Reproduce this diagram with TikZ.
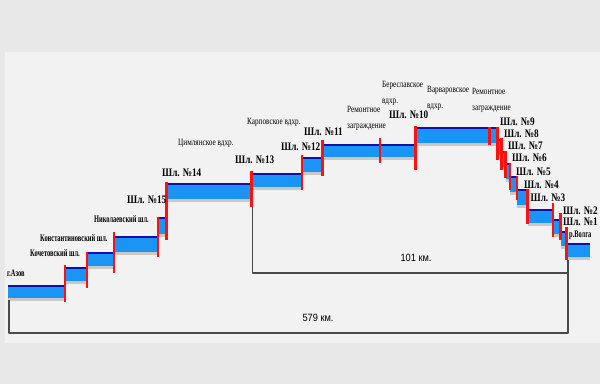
\documentclass[tikz,border=0pt]{standalone}
\usepackage{fontspec}
\newfontfamily\serifc[FakeStretch=0.8]{Liberation Serif}
\newfontfamily\serifn[FakeStretch=0.64]{Liberation Serif}
\newfontfamily\serifr[FakeStretch=0.76]{Liberation Serif}
\newfontfamily\sansc[FakeStretch=0.88]{Liberation Sans}
\definecolor{bgout}{HTML}{E8E8E8}
\definecolor{bgin}{HTML}{F2F2F2}
\definecolor{wblue}{HTML}{1A94F5}
\definecolor{wnavy}{HTML}{1010A8}
\definecolor{wgray}{HTML}{CCC6C4}
\definecolor{lred}{HTML}{FF1010}
\definecolor{brk}{HTML}{4A4A4A}
\tikzset{
  lk/.style={anchor=west, inner sep=0pt, font=\serifc\bfseries\fontsize{11.5}{13}\selectfont},
  nmb/.style={anchor=west, inner sep=0pt, font=\serifn\bfseries\fontsize{10}{11}\selectfont},
  nmr/.style={anchor=west, inner sep=0pt, align=left, font=\serifr\fontsize{9.5}{16}\selectfont},
  km/.style={inner sep=0pt, font=\sansc\fontsize{10.5}{12}\selectfont},
  lockline/.style={draw=lred, line width=2.6pt},
  surf/.style={draw=wnavy, line width=1.8pt},
  bracket/.style={draw=brk, line width=1.4pt, line join=round},
}
\begin{document}
\begin{tikzpicture}[x=1pt,y=-1pt]
\useasboundingbox (0,0) rectangle (600,384);
\fill[bgout] (0,0) rectangle (600,384);
\fill[bgin] (5,52) rectangle (600,343);
% water steps
\foreach \a/\b/\t/\h in {8/64/286/12, 66/87/268/13, 88/114/253/13, 115/157/237/15,
  159/166/218/16, 167/251/184/15, 253/302/174/13, 303/322/158/14, 323/415/145/12,
  416/497/128/15, 498/501.5/140/15, 501.5/505.5/152/15, 505.5/510/164/15,
  510/517/177/15, 517/527.5/190/15, 527.5/553/210/13, 553/560.5/220/14,
  560.5/566.5/232/14, 566.5/590/244/13}{
  \fill[wblue] (\a,\t) rectangle (\b,\t+\h);
  \fill[wgray] (\a,\t+\h) rectangle (\b,\t+\h+3);
  \draw[surf] (\a,\t) -- (\b,\t);
}
% brackets
\coordinate (a1) at (252.5,205);
\coordinate (a2) at (252.5,273);
\coordinate (a3) at (568,273);
\coordinate (b1) at (9,300);
\coordinate (b2) at (9,333);
\coordinate (b3) at (568,333);
\coordinate (b4) at (568,260);
\draw[bracket] (a1) -- (a2) -- (a3);
\draw[bracket] (b1) -- (b2) -- (b3) -- (b4);
% locks
\foreach \x/\p/\q in {65/265/302, 87/252/288, 114/232/273, 158/217/257, 166.5/182/240,
  251.5/171/207, 302/155/190, 322.5/140/176, 380/138/163, 415.5/126/170, 489.5/127/145,
  497.5/127/160, 501.5/138/170, 505.5/151/178, 510/163/190, 517/176/200, 527.5/189/224,
  553/203/237, 560.5/213/240, 566.5/227/260}{
  \draw[lockline] (\x,\p) -- (\x,\q);
}
% labels
\node[nmb] (azov) at (7,273) {г.Азов};
\node[nmb] (koch) at (30,253) {Кочетовский шл.};
\node[nmb] (konst) at (40,238) {Константиновский шл.};
\node[nmb,anchor=east] (nikol) at (149,219) {Николаевский шл.};
\node[lk] (s15) at (127,200) {Шл. №15};
\node[lk] (s14) at (162,173) {Шл. №14};
\node[nmr] (tsim) at (178,143) {Цимлянское вдхр.};
\node[lk] (s13) at (235,160) {Шл. №13};
\node[nmr] (karp) at (247,122) {Карповское вдхр.};
\node[lk] (s12) at (281,147) {Шл. №12};
\node[lk] (s11) at (304,132) {Шл. №11};
\node[nmr] (rem1) at (347,118.5) {Ремонтное\\заграждение};
\node[nmr] (beres) at (382,93) {Береславское\\вдхр.};
\node[lk] (s10) at (389,115) {Шл. №10};
\node[nmr] (varv) at (427,98) {Варваровское\\вдхр.};
\node[nmr] (rem2) at (472,100.5) {Ремонтное\\заграждение};
\node[lk] (s9) at (500,122) {Шл. №9};
\node[lk] (s8) at (504,134) {Шл. №8};
\node[lk] (s7) at (508,146) {Шл. №7};
\node[lk] (s6) at (512,157.5) {Шл. №6};
\node[lk] (s5) at (516,171.5) {Шл. №5};
\node[lk] (s4) at (524,185) {Шл. №4};
\node[lk] (s3) at (530.5,197.5) {Шл. №3};
\node[lk] (s2) at (563,210.5) {Шл. №2};
\node[lk] (s1) at (563,222) {Шл. №1};
\node[nmb] (volga) at (569,235) {р.Волга};
\node[km] (k101) at (416,258) {101 км.};
\node[km] (k579) at (318,318) {579 км.};
\end{tikzpicture}
\end{document}
